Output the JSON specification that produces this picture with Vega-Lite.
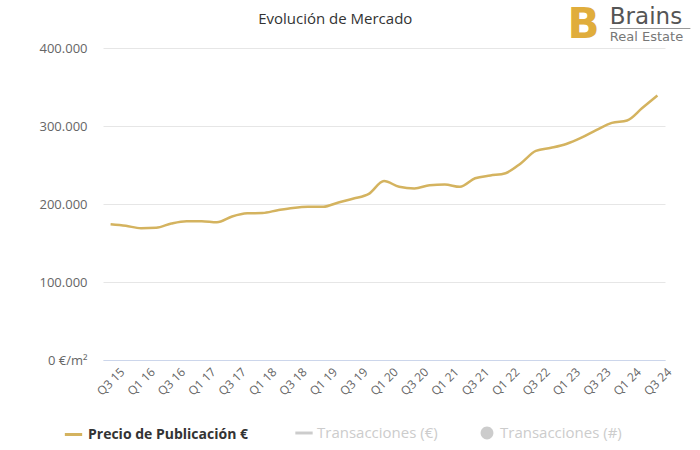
{
  "$schema": "https://vega.github.io/schema/vega-lite/v6.json",
  "autosize": "none",
  "width": 562,
  "height": 312,
  "padding": {"left": 103, "top": 48, "right": 35, "bottom": 90},
  "background": "white",
  "config": {"view": {"stroke": null}, "font": "Open Sans"},
  "datasets": {
    "precio": [
      {"t": "Q3 15", "v": 174000, "serie": "Precio de Publicación €"},
      {"t": "Q4 15", "v": 172000, "serie": "Precio de Publicación €"},
      {"t": "Q1 16", "v": 169000, "serie": "Precio de Publicación €"},
      {"t": "Q2 16", "v": 169500, "serie": "Precio de Publicación €"},
      {"t": "Q3 16", "v": 175000, "serie": "Precio de Publicación €"},
      {"t": "Q4 16", "v": 178000, "serie": "Precio de Publicación €"},
      {"t": "Q1 17", "v": 178000, "serie": "Precio de Publicación €"},
      {"t": "Q2 17", "v": 176500, "serie": "Precio de Publicación €"},
      {"t": "Q3 17", "v": 184000, "serie": "Precio de Publicación €"},
      {"t": "Q4 17", "v": 188000, "serie": "Precio de Publicación €"},
      {"t": "Q1 18", "v": 188500, "serie": "Precio de Publicación €"},
      {"t": "Q2 18", "v": 192000, "serie": "Precio de Publicación €"},
      {"t": "Q3 18", "v": 195000, "serie": "Precio de Publicación €"},
      {"t": "Q4 18", "v": 196500, "serie": "Precio de Publicación €"},
      {"t": "Q1 19", "v": 196500, "serie": "Precio de Publicación €"},
      {"t": "Q2 19", "v": 202000, "serie": "Precio de Publicación €"},
      {"t": "Q3 19", "v": 207000, "serie": "Precio de Publicación €"},
      {"t": "Q4 19", "v": 213000, "serie": "Precio de Publicación €"},
      {"t": "Q1 20", "v": 229500, "serie": "Precio de Publicación €"},
      {"t": "Q2 20", "v": 222000, "serie": "Precio de Publicación €"},
      {"t": "Q3 20", "v": 220000, "serie": "Precio de Publicación €"},
      {"t": "Q4 20", "v": 224000, "serie": "Precio de Publicación €"},
      {"t": "Q1 21", "v": 225000, "serie": "Precio de Publicación €"},
      {"t": "Q2 21", "v": 222000, "serie": "Precio de Publicación €"},
      {"t": "Q3 21", "v": 233000, "serie": "Precio de Publicación €"},
      {"t": "Q4 21", "v": 236500, "serie": "Precio de Publicación €"},
      {"t": "Q1 22", "v": 239500, "serie": "Precio de Publicación €"},
      {"t": "Q2 22", "v": 252000, "serie": "Precio de Publicación €"},
      {"t": "Q3 22", "v": 268000, "serie": "Precio de Publicación €"},
      {"t": "Q4 22", "v": 272000, "serie": "Precio de Publicación €"},
      {"t": "Q1 23", "v": 277000, "serie": "Precio de Publicación €"},
      {"t": "Q2 23", "v": 285000, "serie": "Precio de Publicación €"},
      {"t": "Q3 23", "v": 295000, "serie": "Precio de Publicación €"},
      {"t": "Q4 23", "v": 304000, "serie": "Precio de Publicación €"},
      {"t": "Q1 24", "v": 307000, "serie": "Precio de Publicación €"},
      {"t": "Q2 24", "v": 323000, "serie": "Precio de Publicación €"},
      {"t": "Q3 24", "v": 339000, "serie": "Precio de Publicación €"}
    ],
    "logo": [
      {"t": "Q1 19", "v": 430770, "txt": "Evolución de Mercado", "kind": "title"},
      {"t": "Q2 23", "v": 412800, "txt": "B", "kind": "icon"},
      {"t": "Q4 23", "v": 430770, "txt": "Brains", "kind": "name"},
      {"t": "Q4 23", "v": 408970, "txt": "Real Estate", "kind": "sub"}
    ],
    "underline": [
      {"t": "Q4 23", "t2": "Q3 24", "v": 425000}
    ],
    "tx": []
  },
  "layer": [
    {
      "data": {"name": "precio"},
      "mark": {"type": "line", "interpolate": "monotone", "strokeWidth": 2.5},
      "encoding": {
        "x": {
          "field": "t", "type": "ordinal", "sort": null,
          "scale": {"type": "point", "padding": 0.5},
          "axis": {
            "title": null,
            "values": ["Q3 15","Q1 16","Q3 16","Q1 17","Q3 17","Q1 18","Q3 18","Q1 19","Q3 19","Q1 20","Q3 20","Q1 21","Q3 21","Q1 22","Q3 22","Q1 23","Q3 23","Q1 24","Q3 24"],
            "labelAngle": -45, "ticks": false, "grid": false,
            "domainColor": "#ccd6eb", "labelColor": "#666666", "labelFontSize": 12,
            "labelPadding": 6, "labelOffset": 8, "labelFont": "Open Sans"
          }
        },
        "y": {
          "field": "v", "type": "quantitative",
          "scale": {"domain": [0, 400000], "nice": false},
          "axis": {
            "title": null, "values": [0, 100000, 200000, 300000, 400000],
            "labelExpr": "datum.value === 0 ? '0 €/m²' : format(datum.value / 1000, 'd') + '.000'",
            "domain": false, "ticks": false, "gridColor": "#e6e6e6",
            "labelColor": "#666666", "labelFontSize": 13, "labelPadding": 16, "labelFont": "Open Sans"
          }
        },
        "color": {
          "field": "serie", "type": "nominal",
          "scale": {"domain": ["Precio de Publicación €"], "range": ["#d4b35f"]},
          "legend": {
            "title": null, "orient": "none", "direction": "horizontal",
            "legendX": -40, "legendY": 376,
            "labelFont": "Open Sans", "labelFontSize": 14, "labelFontWeight": "bold", "labelColor": "#333333",
            "symbolType": "stroke", "symbolSize": 300, "symbolStrokeWidth": 3,
            "labelLimit": 300, "padding": 0
          }
        }
      }
    },
    {
      "data": {"name": "tx"},
      "mark": {"type": "point", "filled": true, "color": "#cccccc", "opacity": 1},
      "encoding": {
        "shape": {
          "field": "tipo", "type": "nominal",
          "scale": {"domain": ["Transacciones (€)", "Transacciones (#)"], "range": ["M-1,-0.17L1,-0.17L1,0.17L-1,0.17Z", "M-0.74,0A0.74,0.74 0 1 0 0.74,0A0.74,0.74 0 1 0 -0.74,0Z"]},
          "legend": {
            "title": null, "orient": "none", "direction": "horizontal",
            "legendX": 192, "legendY": 376,
            "labelFont": "Open Sans", "labelFontSize": 15, "labelColor": "#cccccc",
            "symbolSize": 300, "symbolFillColor": "#cccccc", "symbolStrokeWidth": 0,
            "symbolOpacity": 1, "columnPadding": 40, "labelLimit": 300, "padding": 0
          }
        }
      }
    },
    {
      "data": {"name": "logo"},
      "transform": [{"filter": "datum.kind === 'title'"}],
      "mark": {"type": "text", "font": "Open Sans", "fontSize": 15, "color": "#333333", "align": "center", "baseline": "alphabetic", "dx": 12},
      "encoding": {
        "x": {"field": "t", "type": "ordinal", "sort": null},
        "y": {"field": "v", "type": "quantitative"},
        "text": {"field": "txt"}
      }
    },
    {
      "data": {"name": "logo"},
      "transform": [{"filter": "datum.kind === 'icon'"}],
      "mark": {"type": "text", "font": "DejaVu Sans", "fontWeight": "bold", "fontSize": 42, "color": "#e0ad3c", "align": "center", "baseline": "alphabetic", "dx": 2},
      "encoding": {
        "x": {"field": "t", "type": "ordinal", "sort": null},
        "y": {"field": "v", "type": "quantitative"},
        "text": {"field": "txt"}
      }
    },
    {
      "data": {"name": "logo"},
      "transform": [{"filter": "datum.kind === 'name'"}],
      "mark": {"type": "text", "font": "DejaVu Sans", "fontSize": 23, "color": "#555555", "align": "left", "baseline": "alphabetic", "dx": -2},
      "encoding": {
        "x": {"field": "t", "type": "ordinal", "sort": null},
        "y": {"field": "v", "type": "quantitative"},
        "text": {"field": "txt"}
      }
    },
    {
      "data": {"name": "logo"},
      "transform": [{"filter": "datum.kind === 'sub'"}],
      "mark": {"type": "text", "font": "DejaVu Sans", "fontSize": 13, "color": "#777777", "align": "left", "baseline": "alphabetic", "dx": -2},
      "encoding": {
        "x": {"field": "t", "type": "ordinal", "sort": null},
        "y": {"field": "v", "type": "quantitative"},
        "text": {"field": "txt"}
      }
    },
    {
      "data": {"name": "underline"},
      "mark": {"type": "rule", "color": "#999999", "strokeWidth": 1, "x2Offset": 33, "xOffset": -2},
      "encoding": {
        "x": {"field": "t", "type": "ordinal", "sort": null},
        "x2": {"field": "t2"},
        "y": {"field": "v", "type": "quantitative"}
      }
    }
  ]
}
